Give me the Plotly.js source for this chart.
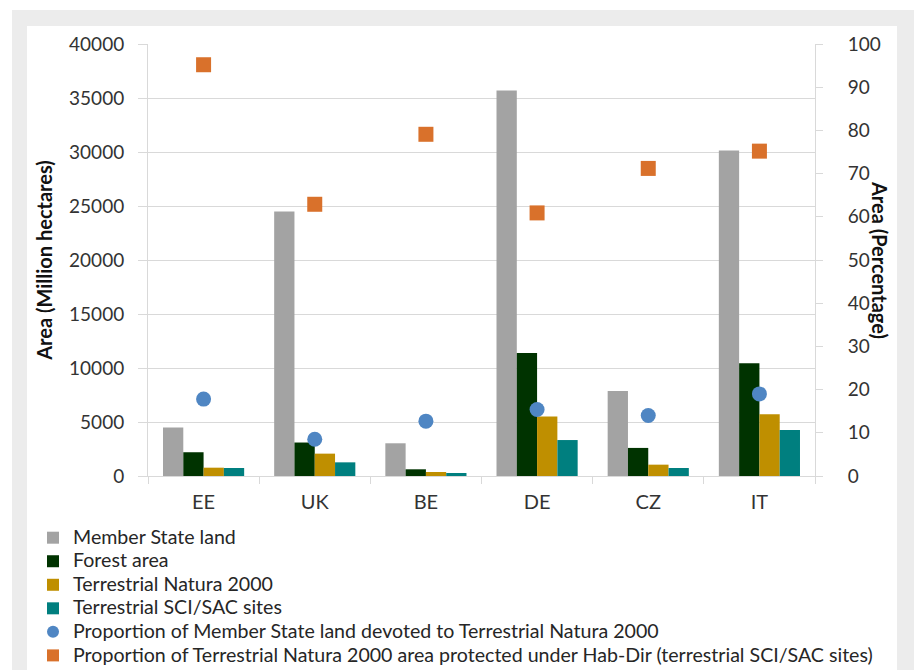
<!DOCTYPE html>
<html>
<head>
<meta charset="utf-8">
<script src="https://cdn.plot.ly/plotly-3.0.1.min.js"></script>
<style>
  html, body { margin: 0; padding: 0; background: #ffffff; width: 914px; height: 670px; overflow: hidden; }
  #frame { position: absolute; left: 12px; top: 10px; width: 902px; height: 660px; background: #ececec; }
  #inner { position: absolute; left: 27px; top: 26px; width: 870px; height: 644px; background: #ffffff; }
  #chart { position: absolute; left: 0; top: 0; width: 914px; height: 670px; }
</style>
</head>
<body>
<div id="frame"></div>
<div id="inner"></div>
<div id="chart"></div>
<script>
const countries = ["EE", "UK", "BE", "DE", "CZ", "IT"];
const memberStateLand = [4500, 24500, 3030, 35700, 7870, 30150];
const forestArea = [2200, 3100, 620, 11400, 2600, 10450];
const terrestrialNatura = [770, 2070, 370, 5500, 1050, 5710];
const terrestrialSCI = [740, 1265, 280, 3330, 740, 4260];
const propLandNatura = [17.8, 8.5, 12.7, 15.4, 14.0, 19.0];
const propNaturaHabDir = [95.2, 62.9, 79.1, 60.9, 71.2, 75.2];
const seriesNames = [
  "Member State land",
  "Forest area",
  "Terrestrial Natura 2000",
  "Terrestrial SCI/SAC sites",
  "Proportion of Member State land devoted to Terrestrial Natura 2000",
  "Proportion of Terrestrial Natura 2000 area protected under Hab-Dir (terrestrial SCI/SAC sites)"
];

const FONT = "Lato, 'DejaVu Sans Condensed', sans-serif";
const lg = (s) => '<span style="font-size:19.6px">' + s + '</span>';

const traces = [
  { type: "bar", name: lg(seriesNames[0]), x: countries, y: memberStateLand, marker: { color: "#a3a3a3" } },
  { type: "bar", name: lg(seriesNames[1]), x: countries, y: forestArea, marker: { color: "#003300" } },
  { type: "bar", name: lg(seriesNames[2]), x: countries, y: terrestrialNatura, marker: { color: "#bf8f00" } },
  { type: "bar", name: lg(seriesNames[3]), x: countries, y: terrestrialSCI, marker: { color: "#007f7f" } },
  { type: "scatter", mode: "markers", name: lg(seriesNames[4]),
    x: countries, y: propLandNatura, yaxis: "y2",
    marker: { symbol: "circle", size: 15, color: "#4f86c3" } },
  { type: "scatter", mode: "markers", name: lg(seriesNames[5]),
    x: countries, y: propNaturaHabDir, yaxis: "y2",
    marker: { symbol: "square", size: 15, color: "#d9712b" } }
];

const layout = {
  width: 914, height: 670,
  margin: { l: 148, r: 99, t: 44, b: 194, pad: 0, autoexpand: false },
  paper_bgcolor: "rgba(0,0,0,0)",
  plot_bgcolor: "rgba(0,0,0,0)",
  font: { family: FONT, size: 19, color: "#333333" },
  barmode: "group",
  bargap: 0.27,
  bargroupgap: 0,
  showlegend: true,
  legend: {
    orientation: "v",
    x: -0.1724, xanchor: "left",
    y: -0.104, yanchor: "top",
    font: { family: FONT, size: 15.8, color: "#262626" },
    bgcolor: "rgba(0,0,0,0)",
    itemsizing: "constant",
    tracegroupgap: 0
  },
  xaxis: {
    type: "category",
    showline: true, linecolor: "#d9d9d9", linewidth: 1,
    ticks: "outside", tickson: "boundaries", ticklen: 7, tickcolor: "#d9d9d9",
    ticklabelstandoff: 8,
    showgrid: false, zeroline: false,
    tickfont: { family: FONT, size: 20, color: "#333333" }
  },
  yaxis: {
    range: [0, 40000], dtick: 5000, tickformat: "d",
    showgrid: true, gridcolor: "#d9d9d9", gridwidth: 1,
    showline: true, linecolor: "#d9d9d9",
    ticks: "outside", ticklen: 9, tickcolor: "#d9d9d9",
    ticklabelstandoff: 10,
    zeroline: false,
    tickfont: { family: FONT, size: 19, color: "#333333" },
    title: { text: "<b>Area (Million hectares)</b>", font: { family: FONT, size: 20, color: "#111111" }, standoff: 11 }
  },
  yaxis2: {
    overlaying: "y", side: "right",
    range: [0, 100], dtick: 10,
    showgrid: false, zeroline: false,
    showline: true, linecolor: "#d9d9d9",
    ticks: "outside", ticklen: 7, tickcolor: "#d9d9d9",
    ticklabelstandoff: 21,
    tickfont: { family: FONT, size: 19, color: "#333333" }
  },
  annotations: [
    { text: "<b>Area (Percentage)</b>", xref: "paper", yref: "paper", x: 1.0975, y: 0.5,
      xanchor: "center", yanchor: "middle", textangle: 90, showarrow: false,
      font: { family: FONT, size: 20, color: "#111111" } }
  ]
};

Plotly.newPlot("chart", traces, layout, { displayModeBar: false, staticPlot: true });
</script>
</body>
</html>
